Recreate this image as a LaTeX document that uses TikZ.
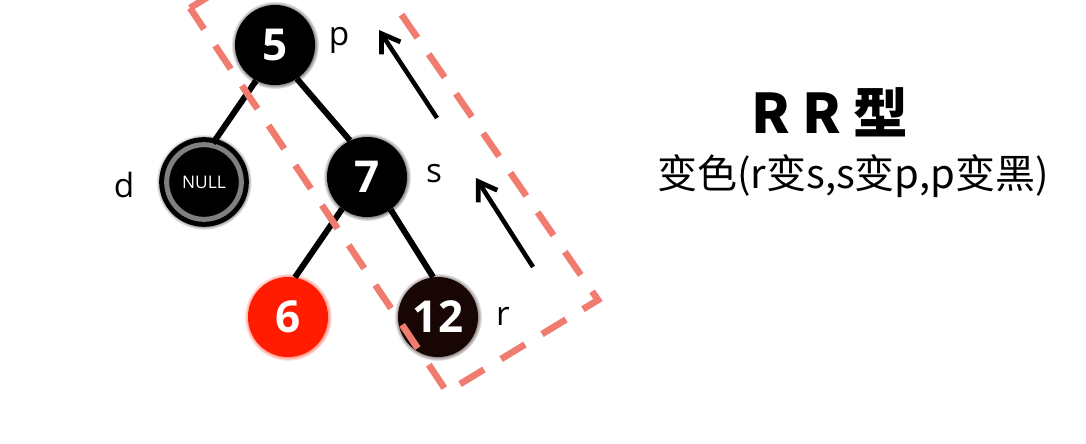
\documentclass[tikz,border=0pt]{standalone}
\usepackage{fontspec}
\setmainfont{Open Sans}
\newfontfamily\cjk{Noto Sans CJK SC}
\usetikzlibrary{arrows.meta, shadows}

\definecolor{NodeRed}{RGB}{255,28,0}
\definecolor{NodeDark}{RGB}{24,6,4}
\definecolor{NullRing}{RGB}{128,128,128}
\definecolor{BoxLine}{RGB}{240,124,112}

\tikzset{
  treenode/.style={circle, minimum size=60pt, inner sep=0pt, text=white,
    font=\bfseries\fontsize{33}{33}\selectfont, fill=#1,
    circular glow={fill=#1, opacity=0.7, shadow scale=1.1}},
  nullnode/.style={circle, minimum size=56pt, inner sep=0pt, fill=black, text=white,
    draw=NullRing, line width=3.75pt, preaction={draw=black, line width=11.25pt},
    font=\fontsize{13}{13}\selectfont,
    circular glow={fill=black, opacity=0.7, shadow scale=1.28}},
  tag/.style={anchor=base, font=\fontsize{25}{25}\selectfont},
  edge/.style={line width=4.5pt},
  move/.style={line width=3.4pt, -{Straight Barb[length=13pt, width=17pt, line width=3.6pt]}},
  box/.style={draw=BoxLine, line width=5pt, dash pattern=on 21pt off 15pt},
}

\begin{document}
\begin{tikzpicture}[x=0.75pt, y=-0.75pt]
\useasboundingbox (0,0) rectangle (1086,443);

\node[treenode=black] (n5) at (275,45) {5};
\node[nullnode] (nil) at (204,182) {NULL};
\node[treenode=black] (n7) at (367,177) {7};
\node[treenode=NodeRed] (n6) at (288,317) {6};
\node[treenode=NodeDark] (n12) at (438,317) {12};

\draw[edge] (n5.-118) -- (nil.77);
\draw[edge] (n5.-57) -- (n7.115);
\draw[edge] (n7.-128) -- (n6.80);
\draw[edge] (n7.-54) -- (n12.97);

\node[tag] (lp) at (339,45) {p};
\node[tag] (ls) at (434,182) {s};
\node[tag] (ld) at (124,197) {d};
\node[tag] (lr) at (503,325) {r};

\coordinate (up1s) at (437,118);
\coordinate (up1e) at (379,30);
\coordinate (up2s) at (533,267);
\coordinate (up2e) at (476,178);
\draw[move] (up1s) -- (up1e);
\draw[move] (up2s) -- (up2e);

\draw[box] (190,8) -- (335,-82) -- (598,300) -- (447,392) -- cycle;

\node[anchor=base, font=\cjk\bfseries\fontsize{41}{41}\selectfont] (title) at (830,133) {R R 型};
\node[anchor=base, font=\cjk\fontsize{30}{30}\selectfont] (rule) at (853,188) {变色(r变s,s变p,p变黑)};

\end{tikzpicture}
\end{document}
